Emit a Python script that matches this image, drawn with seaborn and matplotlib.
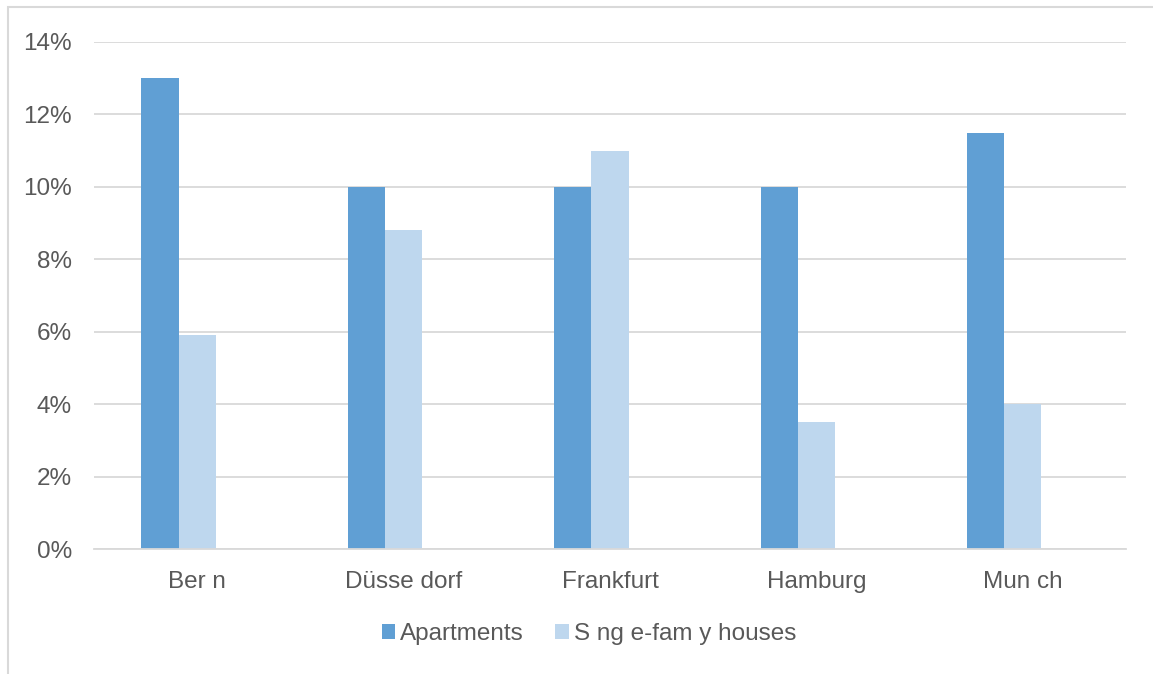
import matplotlib
matplotlib.use("Agg")
import matplotlib.pyplot as plt
from matplotlib.patches import Rectangle, Patch
from matplotlib.ticker import FuncFormatter
import pandas as pd
import seaborn as sns

# Price growth by city and property type (%)
cities = ["Ber n", "Düsse dorf", "Frankfurt", "Hamburg", "Mun ch"]
series_names = ["Apartments", "S ng e-fam y houses"]
apartments = [13.0, 10.0, 10.0, 10.0, 11.5]
single_family = [5.9, 8.8, 11.0, 3.5, 4.0]
y_ticks = [0, 2, 4, 6, 8, 10, 12, 14]

colors = ["#609FD4", "#BED7EE"]
text_color = "#595959"
grid_color = "#D9D9D9"
font_size = 17.5

df = pd.DataFrame({
    "city": cities * 2,
    "series": [series_names[0]] * len(cities) + [series_names[1]] * len(cities),
    "value": apartments + single_family,
})

# the chart keeps a third (empty) series slot in each group
slot_order = series_names + ["(empty)"]
palette = dict(zip(slot_order, colors + ["#FFFFFF"]))

sns.set_theme(style="white")
plt.rcParams["font.family"] = ["Liberation Sans", "DejaVu Sans"]

fig = plt.figure(figsize=(11.53, 6.74), dpi=100)
ax = fig.add_axes([94 / 1153, 1 - 549 / 674, 1032 / 1153, (549 - 42) / 674])

sns.barplot(data=df, x="city", y="value", hue="series", order=cities,
            hue_order=slot_order, palette=palette, width=0.54,
            linewidth=0, saturation=1, ax=ax, legend=False)

ax.set_xlim(-0.5, len(cities) - 0.5)
ax.set_ylim(0, 14)
ax.set_yticks(y_ticks)
ax.yaxis.set_major_formatter(FuncFormatter(lambda v, _: f"{v:.0f}%"))
ax.yaxis.grid(True, color=grid_color, linewidth=1.3)
ax.set_axisbelow(True)
for side in ["top", "right", "left"]:
    ax.spines[side].set_visible(False)
ax.spines["bottom"].set_color(grid_color)
ax.spines["bottom"].set_linewidth(1.3)
ax.set_xlabel("")
ax.set_ylabel("")
ax.tick_params(axis="y", length=0, pad=16, labelsize=font_size, labelcolor=text_color)
ax.tick_params(axis="x", length=0, pad=16, labelsize=font_size, labelcolor=text_color)

handles = [Patch(facecolor=c, edgecolor="none") for c in colors]
fig.legend(handles, series_names, loc="center", bbox_to_anchor=(589 / 1153, 1 - 634 / 674),
           ncol=2, frameon=False, fontsize=font_size, labelcolor=text_color,
           handlelength=0.55, handleheight=0.55, handletextpad=0.2, columnspacing=1.3)

# outer chart frame
fig.add_artist(Rectangle((8 / 1153, -0.05), 1.2, 1 - 7 / 674 + 0.05,
                         transform=fig.transFigure, fill=False,
                         edgecolor=grid_color, linewidth=1.5))

fig.savefig("out.png", dpi=100, facecolor="white")
